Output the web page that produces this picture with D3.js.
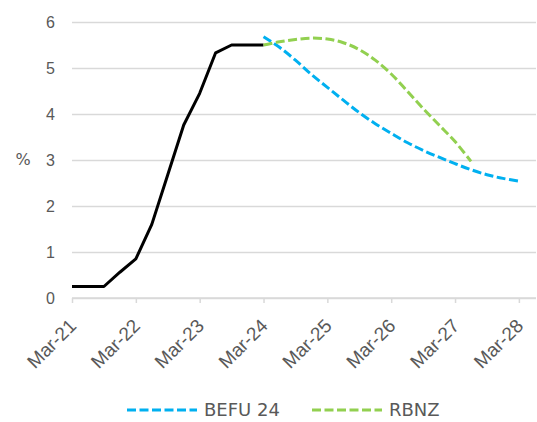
<!DOCTYPE html>
<html>
<head>
<meta charset="utf-8">
<script src="https://cdn.jsdelivr.net/npm/d3@7"></script>
<style>
  body { margin: 0; background: #fff; }
  #chart { width: 537px; height: 422px; }
  svg { font-family: "DejaVu Sans", sans-serif; }
</style>
</head>
<body>
<div id="chart"></div>
<script>
// quarterly categories, Mar-21 .. Jun-28
const QUARTERS = ['Mar', 'Jun', 'Sep', 'Dec'];
const quarters = [];
for (let y = 21; y <= 28; y++) {
  QUARTERS.forEach(q => quarters.push(q + '-' + y));
}
quarters.splice(quarters.indexOf('Jun-28') + 1);

const tickLabels = ['Mar-21', 'Mar-22', 'Mar-23', 'Mar-24', 'Mar-25', 'Mar-26', 'Mar-27', 'Mar-28'];
const yTicks = [0, 1, 2, 3, 4, 5, 6];

// actual OCR, Mar-21 .. Mar-24
const actual = [0.25, 0.25, 0.25, 0.56, 0.85, 1.6, 2.68, 3.76, 4.45, 5.33, 5.5, 5.5, 5.5];
// BEFU 24 forecast, Mar-24 .. Mar-28
const befu = [5.68, 5.45, 5.17, 4.86, 4.58, 4.3, 4.03, 3.79, 3.58, 3.38, 3.21, 3.06, 2.92, 2.79, 2.68, 2.6, 2.54];
// RBNZ forecast, Mar-24 .. Jun-27
const rbnz = [5.5, 5.57, 5.62, 5.65, 5.63, 5.55, 5.4, 5.17, 4.87, 4.5, 4.12, 3.76, 3.4, 2.97];

const C = { grid: '#d9d9d9', text: '#595959', black: '#000000', blue: '#00b0f0', green: '#92d050' };

const W = 537, H = 422;
const M = { t: 22, r: 1, b: 124, l: 72 };
const DASH = '9 3.5';

const svg = d3.select('#chart').append('svg')
  .attr('width', W).attr('height', H)
  .attr('viewBox', `0 0 ${W} ${H}`)
  .style('display', 'block');

const x = d3.scalePoint()
  .domain(quarters)
  .range([M.l, M.l + (quarters.length - 1) * 15.96]);

const y = d3.scaleLinear()
  .domain([0, 6])
  .range([H - M.b, M.t]);

// gridlines
svg.append('g')
  .attr('transform', `translate(${M.l},0)`)
  .call(d3.axisLeft(y).tickValues(yTicks).tickSize(-(W - M.l - M.r)).tickFormat(''))
  .call(g => g.select('.domain').remove())
  .call(g => g.selectAll('line').attr('stroke', C.grid).attr('stroke-width', 1.5));

// y labels
svg.append('g')
  .attr('transform', `translate(${M.l},0)`)
  .call(d3.axisLeft(y).tickValues(yTicks).tickSize(0).tickPadding(17).tickFormat(d3.format('d')))
  .call(g => g.select('.domain').remove())
  .call(g => g.selectAll('text').attr('fill', C.text).style('font-size', '16px'));

svg.append('text')
  .attr('x', 23).attr('y', y(3))
  .attr('dy', '0.32em')
  .attr('text-anchor', 'middle')
  .attr('fill', C.text)
  .style('font-size', '16px')
  .text('%');

// x axis
const xAxis = svg.append('g')
  .attr('transform', `translate(0,${y(0)})`)
  .call(d3.axisBottom(x).tickValues(tickLabels).tickSize(5).tickSizeOuter(0))
  .call(g => g.select('.domain').attr('stroke', C.grid).attr('stroke-width', 1.5)
    .attr('d', `M${M.l},0H${W - M.r}`))
  .call(g => g.selectAll('line').attr('stroke', C.grid).attr('stroke-width', 1.5));

xAxis.selectAll('text')
  .attr('fill', C.text)
  .style('font-size', '19px')
  .attr('text-anchor', 'end')
  .attr('dy', null).attr('y', null)
  .attr('transform', 'translate(5,29) rotate(-45)');

const line = d3.line()
  .x(d => x(d.q))
  .y(d => y(d.v));

const toPts = (vals, start) => vals.map((v, i) => ({ q: quarters[quarters.indexOf(start) + i], v }));

svg.append('path')
  .datum(toPts(actual, 'Mar-21'))
  .attr('fill', 'none')
  .attr('stroke', C.black)
  .attr('stroke-width', 3)
  .attr('stroke-linejoin', 'round')
  .attr('d', line);

const smooth = line.curve(d3.curveCatmullRom.alpha(0.5));

svg.append('path')
  .datum(toPts(befu, 'Mar-24'))
  .attr('fill', 'none')
  .attr('stroke', C.blue)
  .attr('stroke-width', 3)
  .attr('stroke-dasharray', DASH)
  .attr('d', smooth);

svg.append('path')
  .datum(toPts(rbnz, 'Mar-24'))
  .attr('fill', 'none')
  .attr('stroke', C.green)
  .attr('stroke-width', 3)
  .attr('stroke-dasharray', DASH)
  .attr('d', smooth);

// legend
const legend = [
  { name: 'BEFU 24', color: C.blue, x: 127 },
  { name: 'RBNZ', color: C.green, x: 312 }
];
const lg = svg.append('g').selectAll('g')
  .data(legend).enter().append('g')
  .attr('transform', d => `translate(${d.x},${410})`);
lg.append('line')
  .attr('x1', 0).attr('x2', 70)
  .attr('stroke', d => d.color)
  .attr('stroke-width', 3)
  .attr('stroke-dasharray', DASH);
lg.append('text')
  .attr('x', 77).attr('dy', '0.36em')
  .attr('fill', C.text)
  .style('font-size', '18px')
  .text(d => d.name);
</script>
</body>
</html>
